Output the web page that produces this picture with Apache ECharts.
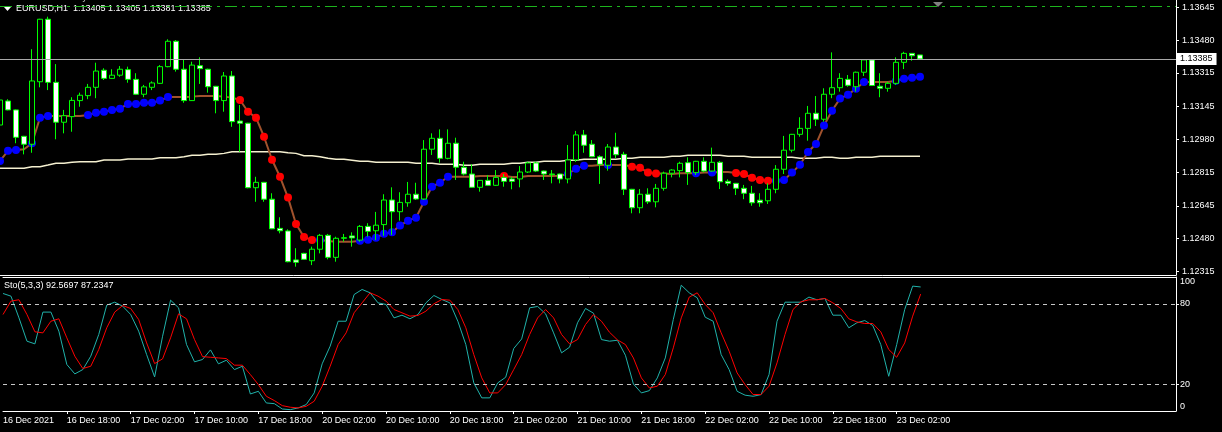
<!DOCTYPE html>
<html><head><meta charset="utf-8">
<script src="https://cdn.jsdelivr.net/npm/echarts@6/dist/echarts.min.js"></script>
<style>html,body{margin:0;padding:0;background:#000;}#c{width:1222px;height:432px;}</style>
</head><body><div id="c"></div>
<script>
// ---------- DATA ----------
const symbolName = 'EURUSD,H1';
const orderText = '#1009587838 buy 0.10';
const orderPrice = 1.13648;
const stochName = 'Sto(5,3,3)';
const timeLabels = ['16 Dec 2021','16 Dec 18:00','17 Dec 02:00','17 Dec 10:00','17 Dec 18:00','20 Dec 02:00','20 Dec 10:00','20 Dec 18:00','21 Dec 02:00','21 Dec 10:00','21 Dec 18:00','22 Dec 02:00','22 Dec 10:00','22 Dec 18:00','23 Dec 02:00'];
const priceTicks = [1.12315,1.12480,1.12645,1.12815,1.12980,1.13145,1.13315,1.13480,1.13645];
const stochLabels = [0,20,80,100];
const stochLevels = [20,80];

const opens = [1.13052,1.13173,1.13128,1.12995,1.12955,1.13270,1.13585,1.13267,1.13066,1.13094,
1.13175,1.13200,1.13242,1.13328,1.13287,1.13303,1.13331,1.13282,1.13207,1.13242,
1.13262,1.13346,1.13474,1.13333,1.13175,1.13351,1.13333,1.13247,1.13175,1.13299,
1.13072,1.13061,1.12736,1.12763,1.12678,1.12531,1.12518,1.12372,1.12405,1.12368,
1.12426,1.12496,1.12385,1.12481,1.12493,1.12472,1.12541,1.12519,1.12550,1.12674,
1.12615,1.12660,1.12703,1.12679,1.12930,1.12985,1.12884,1.12960,1.12839,1.12805,
1.12738,1.12773,1.12748,1.12788,1.12780,1.12780,1.12815,1.12861,1.12820,1.12802,
1.12805,1.12780,1.12876,1.13002,1.12955,1.12892,1.12849,1.12941,1.12904,1.12728,
1.12635,1.12703,1.12665,1.12733,1.12809,1.12822,1.12862,1.12812,1.12869,1.12820,
1.12864,1.12768,1.12758,1.12733,1.12708,1.12673,1.12670,1.12728,1.12829,1.12925,
1.13005,1.13035,1.13111,1.13081,1.13207,1.13240,1.13282,1.13245,1.13318,1.13380,
1.13247,1.13237,1.13262,1.13368,1.13413,1.13405];
const highs = [1.13183,1.13182,1.13130,1.12997,1.13434,1.13587,1.13598,1.13359,1.13128,1.13192,
1.13215,1.13259,1.13366,1.13338,1.13333,1.13349,1.13346,1.13313,1.13254,1.13272,
1.13354,1.13484,1.13480,1.13380,1.13371,1.13393,1.13336,1.13249,1.13319,1.13324,
1.13153,1.13063,1.12791,1.12765,1.12708,1.12587,1.12526,1.12431,1.12408,1.12439,
1.12503,1.12503,1.12489,1.12503,1.12511,1.12548,1.12557,1.12614,1.12703,1.12738,
1.12713,1.12765,1.12761,1.12976,1.13010,1.13030,1.13030,1.12988,1.12867,1.12854,
1.12775,1.12800,1.12825,1.12805,1.12791,1.12845,1.12867,1.12867,1.12822,1.12825,
1.12807,1.12951,1.13022,1.13027,1.12976,1.12899,1.12956,1.13013,1.12917,1.12730,
1.12729,1.12733,1.12755,1.12817,1.12829,1.12867,1.12889,1.12871,1.12889,1.12938,
1.12871,1.12778,1.12760,1.12750,1.12745,1.12708,1.12758,1.12850,1.12997,1.13007,
1.13091,1.13148,1.13198,1.13237,1.13418,1.13313,1.13304,1.13321,1.13383,1.13383,
1.13313,1.13270,1.13393,1.13421,1.13413,1.13405];
const lows = [1.13018,1.13126,1.12960,1.12904,1.12912,1.13242,1.13228,1.12980,1.13010,1.13018,
1.13144,1.13182,1.13187,1.13279,1.13285,1.13295,1.13265,1.13203,1.13192,1.13228,
1.13259,1.13343,1.13321,1.13164,1.13173,1.13259,1.13215,1.13111,1.13119,1.13043,
1.12917,1.12733,1.12665,1.12665,1.12527,1.12506,1.12360,1.12338,1.12373,1.12346,
1.12405,1.12375,1.12363,1.12464,1.12439,1.12464,1.12489,1.12472,1.12494,1.12498,
1.12570,1.12640,1.12674,1.12674,1.12901,1.12862,1.12879,1.12775,1.12798,1.12736,
1.12716,1.12745,1.12745,1.12741,1.12728,1.12738,1.12810,1.12815,1.12775,1.12758,
1.12758,1.12758,1.12866,1.12912,1.12890,1.12755,1.12822,1.12884,1.12699,1.12607,
1.12607,1.12654,1.12637,1.12721,1.12788,1.12788,1.12750,1.12800,1.12814,1.12817,
1.12729,1.12746,1.12699,1.12678,1.12645,1.12640,1.12654,1.12708,1.12805,1.12914,
1.12993,1.12973,1.13047,1.13069,1.13187,1.13220,1.13245,1.13220,1.13299,1.13249,
1.13192,1.13220,1.13254,1.13334,1.13376,1.13381];
const closes = [1.13178,1.13128,1.12990,1.12955,1.13274,1.13585,1.13267,1.13066,1.13099,1.13176,
1.13202,1.13242,1.13324,1.13287,1.13303,1.13333,1.13282,1.13207,1.13244,1.13264,
1.13346,1.13474,1.13333,1.13175,1.13354,1.13336,1.13245,1.13175,1.13299,1.13069,
1.13061,1.12736,1.12763,1.12678,1.12529,1.12519,1.12363,1.12360,1.12375,1.12426,
1.12496,1.12385,1.12481,1.12484,1.12483,1.12541,1.12516,1.12547,1.12674,1.12615,
1.12662,1.12703,1.12679,1.12930,1.12985,1.12884,1.12960,1.12839,1.12805,1.12738,
1.12773,1.12748,1.12788,1.12768,1.12768,1.12815,1.12861,1.12820,1.12805,1.12805,
1.12780,1.12876,1.13002,1.12950,1.12892,1.12854,1.12941,1.12902,1.12728,1.12635,
1.12703,1.12665,1.12733,1.12809,1.12825,1.12859,1.12812,1.12869,1.12820,1.12864,
1.12766,1.12758,1.12733,1.12708,1.12660,1.12660,1.12728,1.12829,1.12925,1.13005,
1.13035,1.13111,1.13081,1.13207,1.13240,1.13287,1.13252,1.13318,1.13380,1.13251,
1.13237,1.13262,1.13368,1.13413,1.13401,1.13385];

const maVals = [1.12834,1.12834,1.12834,1.12834,1.12842,1.12842,1.12850,1.12859,1.12859,1.12864,
1.12867,1.12867,1.12867,1.12876,1.12876,1.12876,1.12881,1.12881,1.12881,1.12881,
1.12887,1.12887,1.12887,1.12892,1.12899,1.12899,1.12904,1.12904,1.12909,1.12917,
1.12917,1.12917,1.12917,1.12917,1.12917,1.12917,1.12912,1.12909,1.12897,1.12897,
1.12892,1.12884,1.12879,1.12879,1.12874,1.12869,1.12869,1.12864,1.12864,1.12864,
1.12864,1.12864,1.12859,1.12859,1.12859,1.12854,1.12854,1.12854,1.12849,1.12849,
1.12854,1.12854,1.12854,1.12854,1.12859,1.12859,1.12864,1.12864,1.12869,1.12869,
1.12869,1.12874,1.12874,1.12879,1.12879,1.12879,1.12879,1.12879,1.12884,1.12884,
1.12889,1.12889,1.12889,1.12889,1.12894,1.12894,1.12899,1.12899,1.12899,1.12899,
1.12899,1.12894,1.12894,1.12894,1.12889,1.12889,1.12889,1.12889,1.12889,1.12889,
1.12884,1.12884,1.12884,1.12889,1.12889,1.12884,1.12884,1.12889,1.12889,1.12889,
1.12894,1.12894,1.12894,1.12894,1.12894,1.12894];

const sigVals = [1.12871,1.12922,1.12926,1.12930,1.12960,1.13089,1.13097,1.13097,1.13097,1.13097,
1.13097,1.13102,1.13114,1.13119,1.13128,1.13134,1.13158,1.13158,1.13164,1.13164,
1.13175,1.13193,1.13193,1.13193,1.13195,1.13198,1.13198,1.13198,1.13195,1.13190,
1.13178,1.13119,1.13089,1.12993,1.12877,1.12791,1.12686,1.12553,1.12488,1.12472,
1.12472,1.12467,1.12464,1.12464,1.12464,1.12469,1.12474,1.12484,1.12504,1.12511,
1.12545,1.12570,1.12585,1.12665,1.12741,1.12761,1.12791,1.12791,1.12791,1.12791,
1.12795,1.12795,1.12795,1.12795,1.12790,1.12790,1.12795,1.12795,1.12795,1.12795,
1.12796,1.12805,1.12832,1.12847,1.12847,1.12850,1.12850,1.12850,1.12850,1.12842,
1.12837,1.12812,1.12807,1.12807,1.12805,1.12809,1.12809,1.12809,1.12812,1.12812,
1.12815,1.12815,1.12810,1.12805,1.12786,1.12775,1.12771,1.12771,1.12775,1.12812,
1.12852,1.12916,1.12956,1.13049,1.13124,1.13185,1.13205,1.13235,1.13269,1.13269,
1.13269,1.13269,1.13275,1.13285,1.13290,1.13295];
// b = blue dot (rising), r = red dot (falling), . = no dot
const sigDots = ('bbb.bbb...' + '.bbbbbbbbb' + 'bb........' + 'rrrrrrrrrr' + 'b....bbbbb' +
  'bbbbbbb...' + '...r......' + '.bbb..b..r' + 'rrr....b.b' + '..rrrrrbbb' +
  'bbbbbbbbb.' + '..bbbb').split('');

const stochK = [87.7,85.7,69.5,52.1,50.1,73.8,73.8,59.6,34.7,27.7,
30.9,40.9,57.1,79.0,81.2,78.2,72.0,59.6,42.1,25.4,
55.8,82.7,77.0,49.6,36.7,38.4,45.6,35.2,37.9,30.9,
33.4,12.7,14.7,6.0,5.5,1.5,1.0,2.3,4.8,13.5,
35.2,48.4,67.0,67.0,86.9,90.7,88.2,80.7,79.5,69.5,
71.5,68.8,72.0,80.7,86.2,83.2,80.7,67.0,49.6,21.0,
9.8,9.8,21.0,25.2,46.6,53.8,77.0,78.0,72.5,58.3,
43.4,47.6,65.8,76.5,73.0,53.3,52.1,52.8,41.6,20.2,
13.5,15.2,24.7,39.6,68.3,93.9,88.2,84.5,70.0,67.0,
42.1,30.9,14.7,11.8,11.0,12.2,27.2,67.0,81.2,81.2,
81.2,85.0,83.0,84.0,71.5,71.5,62.1,65.8,67.5,63.8,
49.6,25.9,49.6,75.7,93.2,92.5697];
const stochD = [72.0,82.0,83.0,72.0,59.1,58.3,67.0,68.8,54.6,40.9,
31.7,33.4,45.9,62.1,73.8,78.7,76.5,68.3,50.8,35.4,
38.9,54.6,72.5,68.8,53.3,40.6,40.1,39.6,39.1,34.2,
34.2,27.2,19.7,11.0,7.8,4.0,2.8,2.3,3.5,7.3,
18.5,33.4,49.6,58.3,73.3,80.7,88.2,85.7,82.0,75.7,
73.3,70.8,71.3,74.5,80.0,83.2,82.7,75.7,62.1,42.1,
24.7,13.5,13.5,19.7,30.9,42.1,57.1,69.5,75.7,69.5,
57.1,50.1,53.3,64.5,72.0,67.0,58.8,53.1,49.6,39.6,
24.7,17.2,18.5,27.2,47.1,69.5,85.0,88.2,79.5,73.3,
58.3,44.6,28.4,19.7,12.3,12.3,18.5,35.9,57.1,75.7,
81.5,83.0,83.0,84.0,80.7,76.5,68.8,66.5,65.3,65.3,
59.1,45.9,40.1,50.8,70.8,87.2347];

// bar slots incl. empty space on the right (chart shift)
const totalSlots = 148;
const barsPerLabel = 8;

// ---------- CHART ----------
const FONT = "'Liberation Sans',Arial,sans-serif";
const FS = 9;
const cats = Array.from({length: totalSlots}, (_, i) => String(i));
const n = opens.length;
const candleData = opens.map((o, i) => [o, closes[i], lows[i], highs[i]]);
const sigData = sigVals.map((v, i) => ({
  value: v,
  symbol: sigDots[i] === '.' ? 'none' : 'circle',
  itemStyle: { color: sigDots[i] === 'r' ? '#FF0000' : '#0000FF' }
}));
const last = n - 1;
const isLabelIdx = (idx) => idx % barsPerLabel === 0 && idx / barsPerLabel < timeLabels.length;
const hLine = (v) => [{ coord: [cats[0], v] }, { coord: [cats[totalSlots - 1], v] }];

const chart = echarts.init(document.getElementById('c'), null, { renderer: 'canvas' });
const axisWhite = { lineStyle: { color: '#FFFFFF', width: 1 } };
chart.setOption({
  backgroundColor: '#000000',
  animation: false,
  grid: [
    { left: 0, top: 0, width: 1176, height: 275 },
    { left: 0, top: 277, width: 1176, height: 134 }
  ],
  xAxis: [
    { type: 'category', gridIndex: 0, data: cats, boundaryGap: false, position: 'bottom',
      axisLine: { show: true, onZero: false, ...axisWhite }, axisTick: { show: false }, axisLabel: { show: false }, splitLine: { show: false } },
    { type: 'category', gridIndex: 1, data: cats, boundaryGap: false, position: 'bottom',
      axisLine: { show: true, onZero: false, ...axisWhite },
      axisTick: { show: true, length: 3, interval: (idx) => idx > 0 && isLabelIdx(idx), ...axisWhite },
      axisLabel: { show: true, interval: (idx) => isLabelIdx(idx), formatter: (v, idx) => timeLabels[idx / barsPerLabel] || '',
        align: 'left', color: '#FFFFFF', fontSize: FS, fontFamily: FONT, margin: 5 },
      splitLine: { show: false } },
    { type: 'category', gridIndex: 1, data: cats, boundaryGap: false, position: 'top',
      axisLine: { show: true, onZero: false, ...axisWhite }, axisTick: { show: false }, axisLabel: { show: false }, splitLine: { show: false } }
  ],
  yAxis: [
    { type: 'value', gridIndex: 0, position: 'right', min: 1.12296, max: 1.13682,
      axisLine: { show: true, ...axisWhite },
      axisTick: { show: true, length: 3, customValues: priceTicks, ...axisWhite },
      axisLabel: { show: true, customValues: priceTicks, formatter: (v) => v.toFixed(5), color: '#FFFFFF', fontSize: FS, fontFamily: FONT, margin: 6 },
      splitLine: { show: false } },
    { type: 'value', gridIndex: 1, position: 'right', min: 0, max: 100,
      axisLine: { show: true, ...axisWhite },
      axisTick: { show: true, length: 3, customValues: stochLevels, ...axisWhite },
      axisLabel: { show: true, customValues: stochLabels, formatter: (v) => String(v), color: '#FFFFFF', fontSize: FS, fontFamily: FONT, margin: 4,
        verticalAlignMinLabel: 'bottom', verticalAlignMaxLabel: 'top' },
      splitLine: { show: false } }
  ],
  series: [
    { name: 'MA', type: 'line', xAxisIndex: 0, yAxisIndex: 0, data: maVals, showSymbol: false, z: 1,
      lineStyle: { color: '#F5F0D0', width: 1.5 },
      markLine: { silent: true, symbol: ['none', 'none'], animation: false, precision: 5,
        data: [
          hLine(orderPrice).map((p, k) => k === 0 ? { ...p, lineStyle: { color: '#1DB31D', type: [12, 5, 3, 5], width: 1 }, label: { show: false } } : p),
          hLine(closes[last]).map((p, k) => k === 0 ? { ...p, lineStyle: { color: '#A8A8A8', type: 'solid', width: 1 },
            label: { show: true, position: 'end', distance: 1, formatter: closes[last].toFixed(5),
              color: '#000000', backgroundColor: '#FFFFFF', padding: [2, 4, 1, 3], fontSize: FS, fontFamily: FONT } } : p)
        ] } },
    { name: 'Signal', type: 'line', xAxisIndex: 0, yAxisIndex: 0, data: sigData, z: 2,
      showSymbol: true, showAllSymbol: true, symbolSize: 8,
      lineStyle: { color: '#A0522D', width: 2 } },
    { name: 'Price', type: 'candlestick', xAxisIndex: 0, yAxisIndex: 0, data: candleData, z: 3,
      barWidth: 5,
      itemStyle: { color: '#000000', color0: '#FFFFFF', borderColor: '#00FF00', borderColor0: '#00FF00', borderWidth: 1 } },
    { name: 'K', type: 'line', xAxisIndex: 1, yAxisIndex: 1, data: stochK, showSymbol: false,
      lineStyle: { color: '#20B2AA', width: 1 },
      markLine: { silent: true, symbol: ['none', 'none'], label: { show: false },
        lineStyle: { color: '#C8C8C8', type: [4, 4], width: 1 },
        data: stochLevels.map(v => ({ yAxis: v })) } },
    { name: 'D', type: 'line', xAxisIndex: 1, yAxisIndex: 1, data: stochD, showSymbol: false,
      lineStyle: { color: '#FF0000', width: 1 } }
  ],
  graphic: [
    { type: 'text', x: 15, y: -2, style: { text: orderText, fill: '#C0C0C0', font: FS + 'px ' + FONT, verticalAlign: 'middle' } },
    { type: 'text', x: 0, y: 9, style: { text: symbolName + '  ' + opens[last].toFixed(5) + ' ' + highs[last].toFixed(5) + ' ' + lows[last].toFixed(5) + ' ' + closes[last].toFixed(5),
      fill: '#FFFFFF', font: FS + 'px ' + FONT, verticalAlign: 'middle', backgroundColor: '#000000', padding: [2, 4, 2, 16] } },
    { type: 'polygon', shape: { points: [[4, 7], [11, 7], [7.5, 11]] }, style: { fill: '#FFFFFF' } },
    { type: 'polygon', shape: { points: [[933, 2], [943, 2], [938, 7]] }, style: { fill: '#808080' } },
    { type: 'text', x: 4, y: 286, style: { text: stochName + ' ' + stochK[last].toFixed(4) + ' ' + stochD[last].toFixed(4),
      fill: '#FFFFFF', font: FS + 'px ' + FONT, verticalAlign: 'middle' } }
  ]
});
</script></body></html>
